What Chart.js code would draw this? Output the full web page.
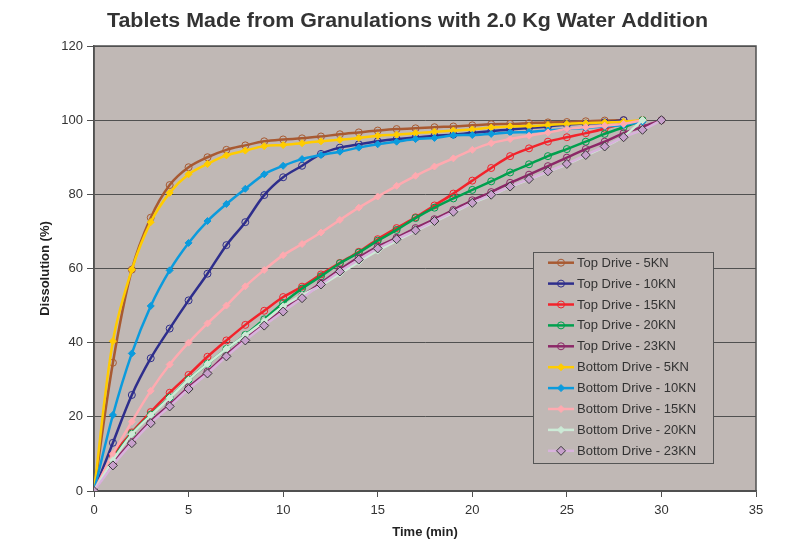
<!DOCTYPE html>
<html><head><meta charset="utf-8">
<script src="https://cdn.jsdelivr.net/npm/chart.js@4.4.1/dist/chart.umd.min.js"></script>
<style>html,body{margin:0;padding:0;background:#fff;}#wrap{width:792px;height:541px;position:relative;}</style>
</head><body><div id="wrap"><canvas id="c" width="792" height="541"></canvas></div>
<script>
const chartTitle = 'Tablets Made from Granulations with 2.0 Kg Water Addition';
const xAxisTitle = 'Time (min)';
const yAxisTitle = 'Dissolution (%)';
const times = [0,1,2,3,4,5,6,7,8,9,10,11,12,13,14,15,16,17,18,19,20,21,22,23,24,25,26,27,28,29,30];
const xTickValues = [0,5,10,15,20,25,30,35];
const yTickValues = [0,20,40,60,80,100,120];
const seriesNames = ['Top Drive - 5KN','Top Drive - 10KN','Top Drive - 15KN','Top Drive - 20KN','Top Drive - 23KN',
  'Bottom Drive - 5KN','Bottom Drive - 10KN','Bottom Drive - 15KN','Bottom Drive - 20KN','Bottom Drive - 23KN'];
const topDrive5KN  = [0,34.6,59.7,73.7,82.5,87.3,90.0,92.0,93.2,94.3,94.8,95.1,95.6,96.2,96.7,97.2,97.6,97.8,98.1,98.3,98.6,98.9,99.0,99.2,99.4,99.5,99.7,99.9,100.0];
const topDrive10KN = [0,13.0,25.9,35.8,43.8,51.4,58.6,66.3,72.5,79.8,84.6,87.7,90.9,92.6,93.5,94.3,94.9,95.3,95.8,96.1,96.6,97.0,97.5,97.9,98.3,98.8,99.1,99.4,100.0];
const topDrive15KN = [0,9.5,15.8,21.3,26.5,31.3,36.2,40.6,44.8,48.6,52.3,55.1,58.4,61.5,64.5,67.9,70.9,73.8,77.0,80.2,83.7,87.1,90.3,92.4,94.2,95.4,96.5,97.7,99.1,100.0];
const topDrive20KN = [0,8.6,15.5,20.6,25.2,30.0,34.3,38.3,42.1,46.3,50.7,54.6,57.9,61.4,64.3,67.5,70.4,73.6,76.4,78.9,81.2,83.5,85.9,88.1,90.3,92.2,94.2,96.3,98.1,100.0];
const topDrive23KN = [0,7.4,13.4,18.8,23.3,28.0,32.2,36.8,41.0,45.0,48.9,52.6,56.1,59.7,63.0,65.9,68.3,70.9,73.3,75.8,78.4,80.6,83.1,85.3,87.6,89.9,92.2,94.2,96.5,98.2,100.0];
const bottomDrive5KN  = [0,40.4,59.7,72.5,80.4,85.4,88.2,90.5,91.8,93.0,93.3,93.8,94.3,94.7,95.2,95.8,96.1,96.5,96.9,97.2,97.5,98.0,98.3,98.4,98.7,99.0,99.2,99.4,99.6,100.0];
const bottomDrive10KN = [0,20.5,37.1,49.9,59.5,66.9,72.8,77.4,81.5,85.4,87.7,89.5,90.6,91.5,92.6,93.5,94.2,94.9,95.2,95.9,96.0,96.3,96.7,96.8,97.2,97.6,97.9,98.3,98.7,99.6];
const bottomDrive15KN = [0,10.0,18.7,27.0,34.1,40.0,45.2,50.0,55.2,59.6,63.6,66.6,69.7,73.1,76.4,79.4,82.3,85.0,87.5,89.7,92.0,93.8,94.9,95.8,96.7,97.6,98.1,98.5,99.0,100.0];
const bottomDrive20KN = [0,8.3,15.3,20.4,25.1,30.0,34.3,38.3,42.0,45.8,49.8,52.8,55.4,58.6,61.8,64.8,67.5,70.1,72.6,75.1,77.6,79.7,82.0,84.0,86.1,88.1,90.4,92.8,95.6,100.0];
const bottomDrive23KN = [0,6.9,12.9,18.3,22.8,27.5,31.7,36.3,40.6,44.6,48.4,52.0,55.7,59.2,62.4,65.4,67.9,70.3,72.8,75.3,77.7,79.9,82.1,84.1,86.2,88.2,90.6,92.9,95.4,97.4,100.0];

const allSeries = [topDrive5KN,topDrive10KN,topDrive15KN,topDrive20KN,topDrive23KN,bottomDrive5KN,bottomDrive10KN,bottomDrive15KN,bottomDrive20KN,bottomDrive23KN];
const styles = [
  {c:'#A85A32', ps:'circle', bg:'rgba(0,0,0,0)', pb:'#A85A32', r:3.5},
  {c:'#2E2E8C', ps:'circle', bg:'rgba(0,0,0,0)', pb:'#2E2E8C', r:3.5},
  {c:'#F2232B', ps:'circle', bg:'rgba(0,0,0,0)', pb:'#F2232B', r:3.5},
  {c:'#00A04E', ps:'circle', bg:'rgba(0,0,0,0)', pb:'#00A04E', r:3.5},
  {c:'#8C2868', ps:'circle', bg:'rgba(0,0,0,0)', pb:'#8C2868', r:3.5},
  {c:'#FFCC00', ps:'rectRot', bg:'#FFCC00', pb:'#FFCC00', r:3.5},
  {c:'#0B9BDD', ps:'rectRot', bg:'#0B9BDD', pb:'#0B9BDD', r:3.5},
  {c:'#FFAAB0', ps:'rectRot', bg:'#FFAAB0', pb:'#FFAAB0', r:3.5},
  {c:'#CCEAD6', ps:'rectRot', bg:'#CCEAD6', pb:'#CCEAD6', r:3.5},
  {c:'#D8B2DC', ps:'rectRot', bg:'#C7A0CC', pb:'#3A3A3A', r:4.5}
];
const PLOT_BG = '#C0B8B5';
const datasets = allSeries.map((vals,i)=>({
  label: seriesNames[i],
  data: vals.map((v,j)=>({x:times[j], y:v})),
  borderColor: styles[i].c,
  backgroundColor: styles[i].bg,
  borderWidth: 2.5,
  pointStyle: styles[i].ps,
  pointRadius: styles[i].r,
  pointBackgroundColor: styles[i].bg,
  pointBorderColor: styles[i].pb,
  pointBorderWidth: 1,
  tension: 0.35,
  order: allSeries.length - i
}));

const plotFrame = {
  id:'plotFrame',
  beforeDraw(chart){
    const {ctx, chartArea:a} = chart;
    ctx.save(); ctx.fillStyle = PLOT_BG;
    ctx.fillRect(a.left, a.top, a.right-a.left, a.bottom-a.top); ctx.restore();
  },
  beforeDatasetsDraw(chart){
    const {ctx, chartArea:a} = chart;
    ctx.save(); ctx.strokeStyle='#505050'; ctx.lineWidth=1.5;
    ctx.strokeRect(a.left, a.top, a.right-a.left, a.bottom-a.top); ctx.restore();
  }
};
const titlePlugin = {
  id:'titleText',
  afterDraw(chart){
    const ctx = chart.ctx; ctx.save();
    ctx.font = 'bold 20px "Liberation Sans", Arial, sans-serif';
    const w = ctx.measureText(chartTitle).width;
    const target = 601;
    ctx.fillStyle = '#333333'; ctx.textAlign='center'; ctx.textBaseline='alphabetic';
    ctx.translate(407.5, 27); ctx.scale(target/w, 1);
    ctx.fillText(chartTitle, 0, 0); ctx.restore();
  }
};
const legendPlugin = {
  id:'legendBox',
  afterDraw(chart){
    const ctx = chart.ctx; const L=533, T=252, W=180, H=211, rowH=20.9, firstY=262.7;
    ctx.save();
    ctx.fillStyle = PLOT_BG; ctx.fillRect(L,T,W,H);
    ctx.strokeStyle='#555555'; ctx.lineWidth=1; ctx.strokeRect(L+0.5,T+0.5,W,H);
    chart.data.datasets.forEach((ds,i)=>{
      const y = firstY + i*rowH;
      ctx.strokeStyle = ds.borderColor; ctx.lineWidth = 2.5;
      ctx.beginPath(); ctx.moveTo(548,y); ctx.lineTo(574,y); ctx.stroke();
      ctx.fillStyle = ds.pointBackgroundColor; ctx.strokeStyle = ds.pointBorderColor; ctx.lineWidth = 1;
      Chart.helpers.drawPoint(ctx, {pointStyle: ds.pointStyle, radius: ds.pointRadius, borderWidth:1, rotation:0}, 561, y);
      ctx.fillStyle='#333333'; ctx.font='13px "Liberation Sans", Arial, sans-serif';
      ctx.textAlign='left'; ctx.textBaseline='middle';
      ctx.fillText(ds.label, 577, y+0.5);
    });
    ctx.restore();
  }
};

new Chart(document.getElementById('c'), {
  type:'line',
  data:{datasets},
  options:{
    responsive:false, animation:false, devicePixelRatio:1,
    layout:{padding:{left:34, right:36, top:46, bottom:0}},
    plugins:{legend:{display:false}, title:{display:false}, tooltip:{enabled:false}},
    scales:{
      x:{type:'linear', min:0, max:35,
        afterBuildTicks(s){ s.ticks = xTickValues.map(v=>({value:v})); },
        afterFit(s){ s.height = 50; },
        ticks:{color:'#333333', padding:6, font:{family:'"Liberation Sans", Arial, sans-serif', size:13}},
        grid:{drawOnChartArea:false, drawTicks:true, tickLength:6, color:'#505050'},
        border:{color:'#505050', width:1.5},
        title:{display:true, text:xAxisTitle, color:'#222222', padding:{top:0,bottom:1}, font:{family:'"Liberation Sans", Arial, sans-serif', size:13, weight:'bold'}}
      },
      y:{type:'linear', min:0, max:120,
        afterBuildTicks(s){ s.ticks = yTickValues.map(v=>({value:v})); },
        afterFit(s){ s.width = 60; },
        ticks:{color:'#333333', padding:4, font:{family:'"Liberation Sans", Arial, sans-serif', size:13}},
        grid:{color:'#505050', lineWidth:1, drawTicks:true, tickLength:7},
        border:{color:'#505050', width:1.5},
        title:{display:true, text:yAxisTitle, color:'#222222', padding:{top:4,bottom:4}, font:{family:'"Liberation Sans", Arial, sans-serif', size:13, weight:'bold'}}
      }
    }
  },
  plugins:[plotFrame, titlePlugin, legendPlugin]
});
</script></body></html>
